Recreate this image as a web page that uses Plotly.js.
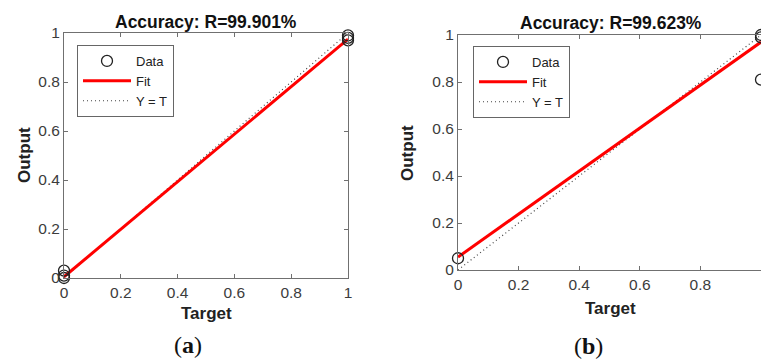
<!DOCTYPE html>
<html>
<head>
<meta charset="utf-8">
<script src="https://cdn.plot.ly/plotly-3.0.1.min.js"></script>
<style>html,body{margin:0;padding:0;background:#fff;}#chart{width:761px;height:360px;}</style>
</head>
<body>
<div id="chart"></div>
<script>
// ---- Data ----
// Panel (a)
const targetA = [0, 0, 0, 1, 1, 1];
const outputA = [0.0, 0.01, 0.03, 0.97, 0.98, 0.99];
const fitXA = [0, 1];
const fitYA = [0.005, 0.975];
// Panel (b)
const targetB = [0, 1, 1, 1];
const outputB = [0.05, 0.81, 0.99, 1.0];
const fitXB = [0, 1];
const fitYB = [0.055, 0.97];
// Identity line Y = T
const idX = [0, 1];
const idY = [0, 1];
const titles = ["Accuracy: R=99.901%", "Accuracy: R=99.623%"];
const panelLabels = ["(<b>a</b>)", "(<b>b</b>)"];
const tickVals = [0, 0.2, 0.4, 0.6, 0.8, 1];
const tickText = ["0", "0.2", "0.4", "0.6", "0.8", "1"];

const W = 761, H = 360;
const px = v => v / W;
const py = v => (H - v) / H;

const FONT = "Liberation Sans, Arial, sans-serif";
const AX = "#707070";

function dataTrace(x, y, xa, ya, lg, show) {
  return {x: x, y: y, xaxis: xa, yaxis: ya, type: "scatter", mode: "markers", name: "Data",
    legend: lg, showlegend: show, cliponaxis: false,
    marker: {symbol: "circle-open", size: 11, color: "#222", line: {width: 1.3, color: "#222"}}};
}
function fitTrace(x, y, xa, ya, lg) {
  return {x: x, y: y, xaxis: xa, yaxis: ya, type: "scatter", mode: "lines", name: "Fit",
    legend: lg, line: {color: "#ff0000", width: 3}};
}
function idTrace(x, y, xa, ya, lg) {
  return {x: x, y: y, xaxis: xa, yaxis: ya, type: "scatter", mode: "lines", name: "Y = T",
    legend: lg, line: {color: "#444", width: 1.2, dash: "1px,3px"}};
}

const traces = [
  idTrace(idX, idY, "x", "y", "legend"),
  fitTrace(fitXA, fitYA, "x", "y", "legend"),
  dataTrace(targetA, outputA, "x", "y", "legend", true),
  idTrace(idX, idY, "x2", "y2", "legend2"),
  fitTrace(fitXB, fitYB, "x2", "y2", "legend2"),
  dataTrace(targetB, outputB, "x2", "y2", "legend2", true)
];

function axis(extra) {
  return Object.assign({
    showgrid: false, zeroline: false, showline: true, linecolor: AX, linewidth: 1,
    ticks: "inside", ticklen: 4, tickcolor: AX, tickwidth: 1,
    tickvals: tickVals, ticktext: tickText,
    tickfont: {family: FONT, size: 15.5, color: "#3c3c3c"},
    automargin: false, fixedrange: true
  }, extra);
}

const legendCommon = {
  bgcolor: "#ffffff", bordercolor: "#666", borderwidth: 1,
  font: {family: FONT, size: 13, color: "#222"},
  xanchor: "left", yanchor: "top", traceorder: "reversed",
  itemwidth: 48, tracegroupgap: 0
};

const layout = {
  width: W, height: H,
  margin: {l: 0, r: 0, t: 0, b: 0},
  paper_bgcolor: "#fff", plot_bgcolor: "#fff",
  showlegend: true,
  xaxis: axis({domain: [px(64), px(348)], range: [0, 1], anchor: "y", mirror: "ticks"}),
  yaxis: axis({domain: [py(278), py(33)], range: [0, 1], anchor: "x", mirror: "ticks"}),
  xaxis2: axis({domain: [px(458), 1], range: [0, 1], anchor: "y2", mirror: "ticks"}),
  yaxis2: axis({domain: [py(270), py(35)], range: [0, 1], anchor: "x2", mirror: false}),
  legend: Object.assign({x: px(77), y: py(45)}, legendCommon),
  legend2: Object.assign({x: px(473), y: py(46)}, legendCommon),
  annotations: [
    {text: "<b>" + titles[0] + "</b>", xref: "paper", yref: "paper", x: px(206), y: py(22),
     showarrow: false, xanchor: "center", yanchor: "middle", font: {family: FONT, size: 17.5, color: "#111"}},
    {text: "<b>" + titles[1] + "</b>", xref: "paper", yref: "paper", x: px(611), y: py(23),
     showarrow: false, xanchor: "center", yanchor: "middle", font: {family: FONT, size: 17.5, color: "#111"}},
    {text: "<b>Target</b>", xref: "paper", yref: "paper", x: px(206), y: py(313),
     showarrow: false, xanchor: "center", yanchor: "middle", font: {family: FONT, size: 17, color: "#222"}},
    {text: "<b>Target</b>", xref: "paper", yref: "paper", x: px(610), y: py(308),
     showarrow: false, xanchor: "center", yanchor: "middle", font: {family: FONT, size: 17, color: "#222"}},
    {text: "<b>Output</b>", xref: "paper", yref: "paper", x: px(24), y: py(155), textangle: -90,
     showarrow: false, xanchor: "center", yanchor: "middle", font: {family: FONT, size: 17, color: "#222"}},
    {text: "<b>Output</b>", xref: "paper", yref: "paper", x: px(407), y: py(153), textangle: -90,
     showarrow: false, xanchor: "center", yanchor: "middle", font: {family: FONT, size: 17, color: "#222"}},
    {text: panelLabels[0], xref: "paper", yref: "paper", x: px(188), y: py(345),
     showarrow: false, xanchor: "center", yanchor: "middle", font: {family: "Liberation Serif, DejaVu Serif, serif", size: 24, color: "#111"}},
    {text: panelLabels[1], xref: "paper", yref: "paper", x: px(588), y: py(346),
     showarrow: false, xanchor: "center", yanchor: "middle", font: {family: "Liberation Serif, DejaVu Serif, serif", size: 24, color: "#111"}}
  ]
};

Plotly.newPlot("chart", traces, layout, {staticPlot: true, displayModeBar: false});
</script>
</body>
</html>
